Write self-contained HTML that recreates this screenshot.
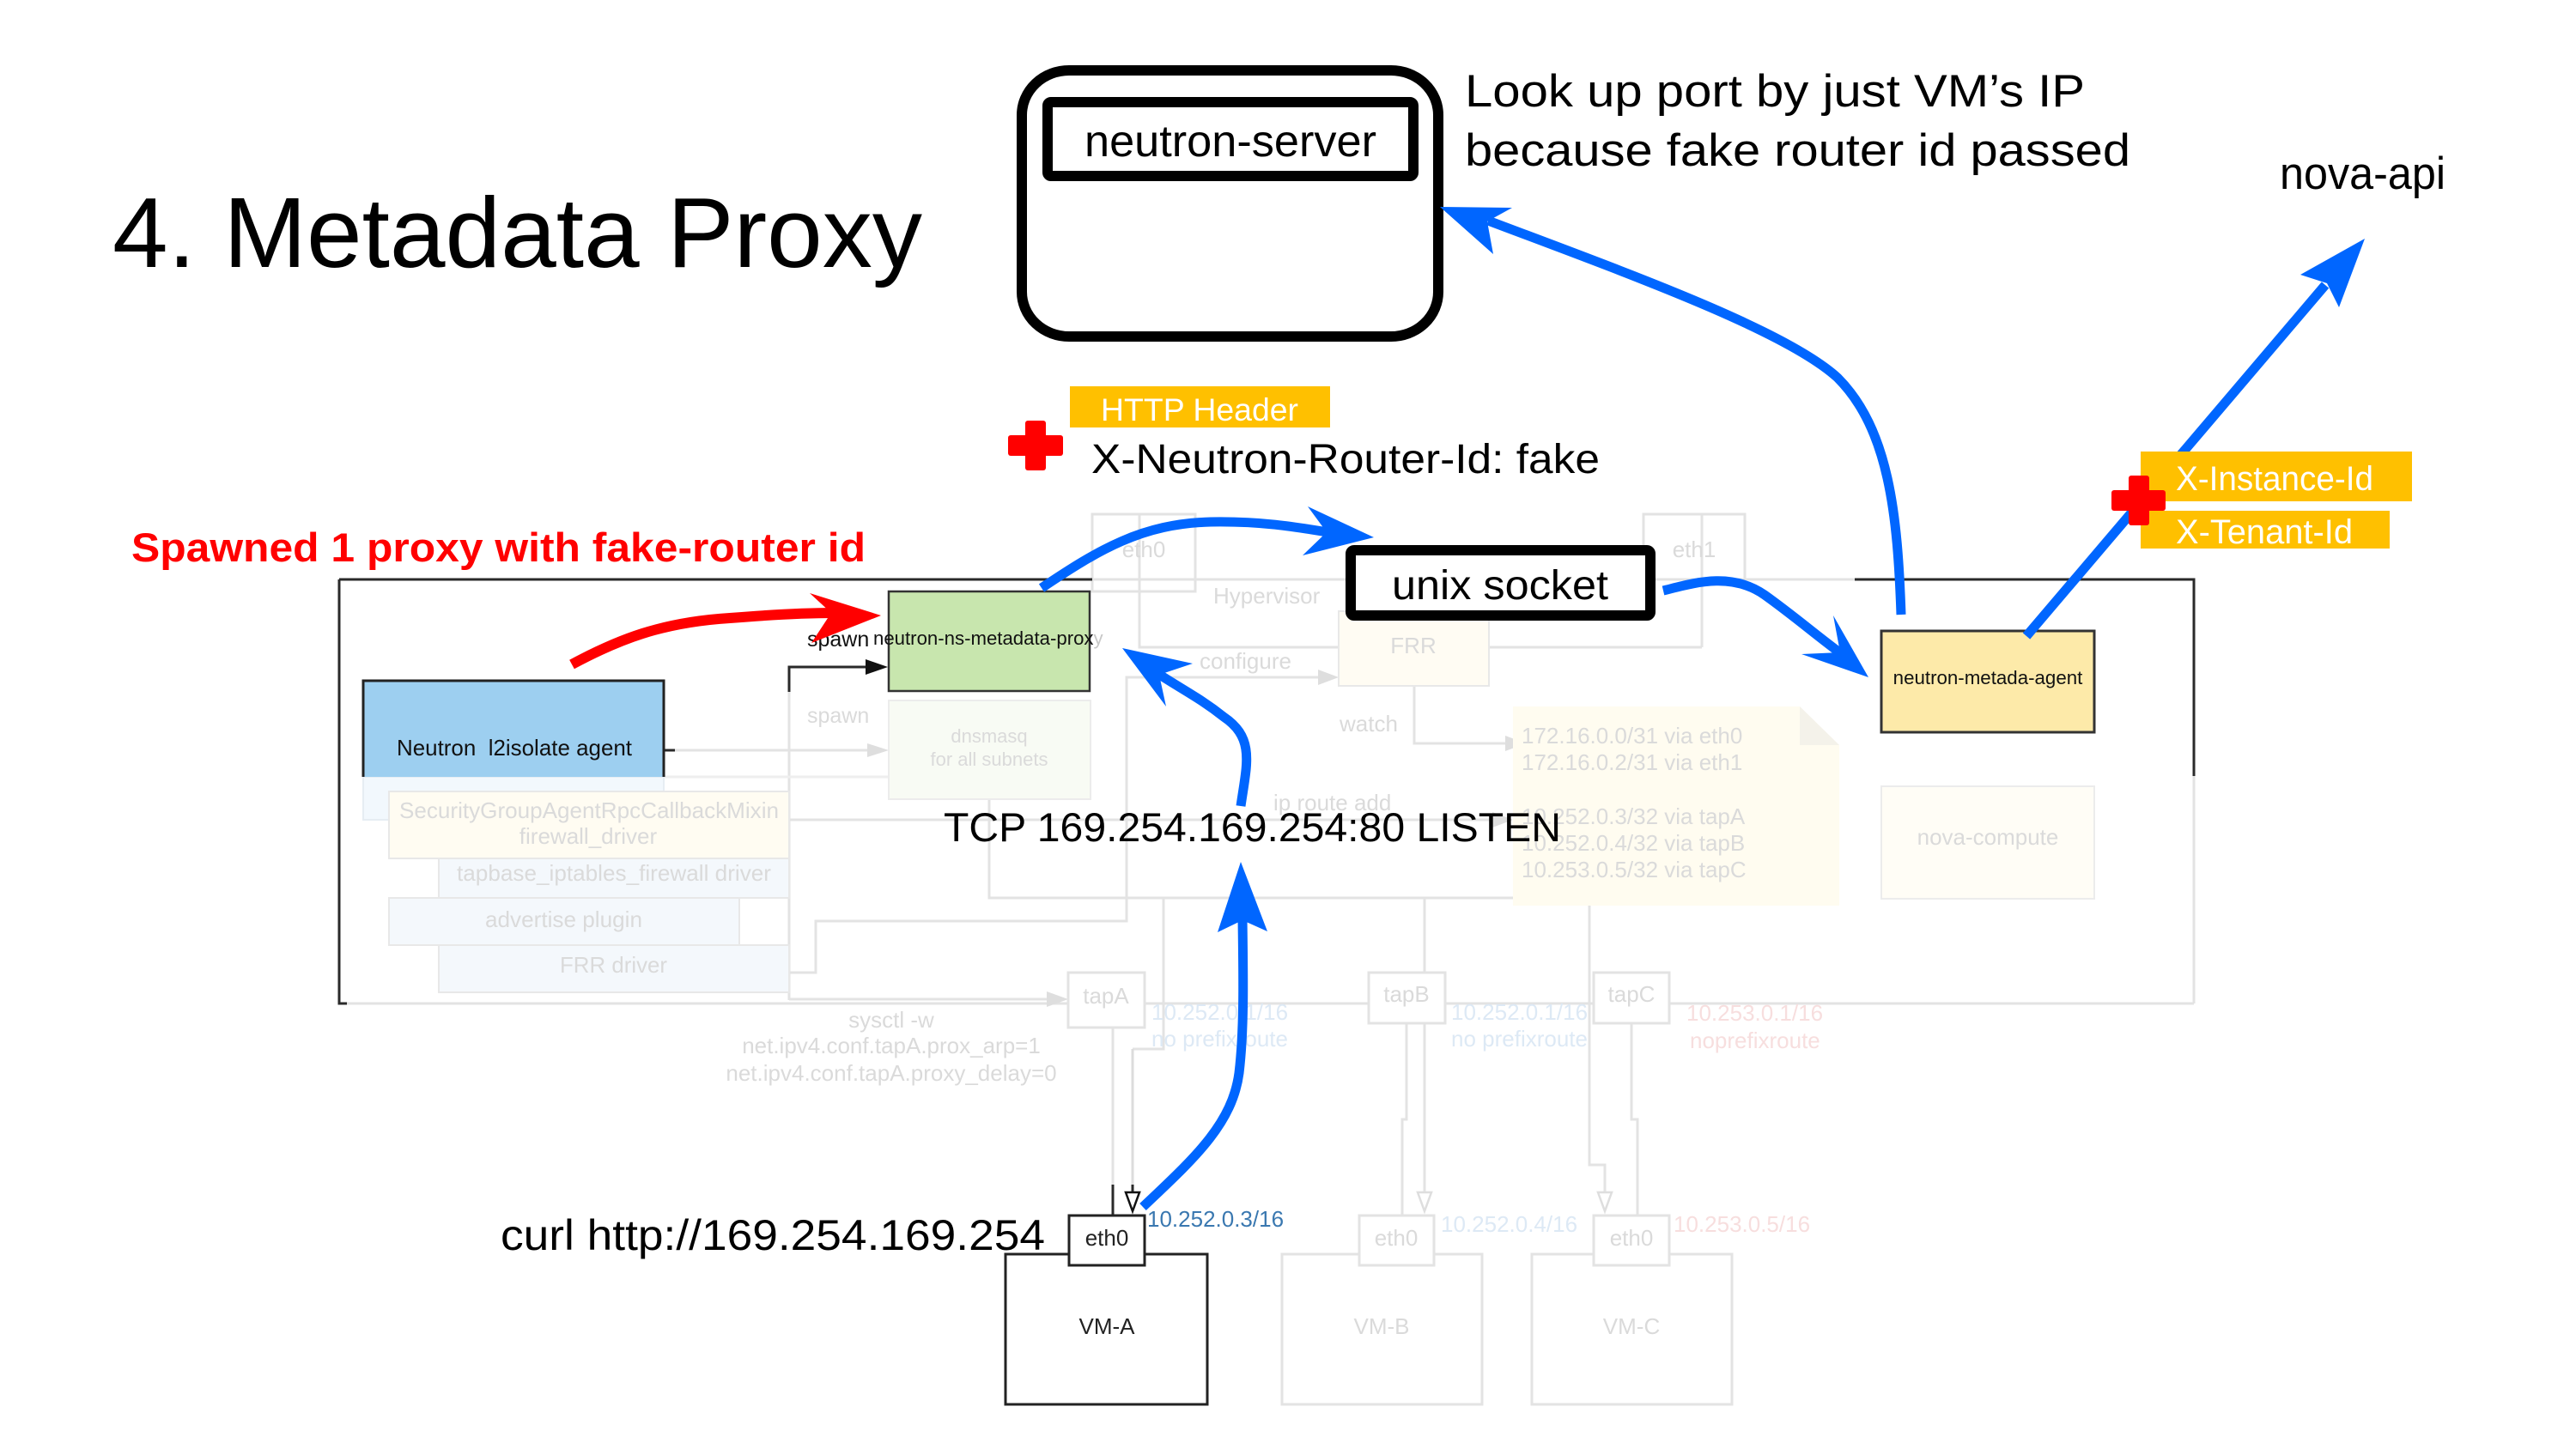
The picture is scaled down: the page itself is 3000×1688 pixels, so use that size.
<!DOCTYPE html>
<html><head><meta charset="utf-8"><style>html,body{margin:0;padding:0;background:#fff}svg{display:block}</style></head>
<body>
<svg xmlns="http://www.w3.org/2000/svg" width="3000" height="1688" viewBox="0 0 3000 1688" font-family="'Liberation Sans', Arial, sans-serif">
<rect width="3000" height="1688" fill="#fff"/>

<!-- ===== faint background diagram ===== -->
<g fill="none" stroke="#e3e3e3" stroke-width="3">
  <!-- outer frame gray parts -->
  <path d="M395,1169 H1244 M1333,1169 H1594 M1683,1169 H1856 M1944,1169 H2555"/>
  <path d="M1272,675 H2160"/>
  <path d="M2555,904 V1169"/>
  <!-- eth0 / hypervisor / eth1 -->
  <rect x="1272" y="599" width="120" height="90"/>
  <path d="M1327,599 V754 H1559"/>
  <path d="M1734,754 H1982 M1982,599 V754"/>
  <rect x="1914" y="599" width="118" height="76"/>
  <!-- agent connectors -->
  <path d="M785,874 H1012"/>
  <path d="M919,806 V1165"/>
  <path d="M919,955 H1740"/>
  <path d="M773,905 H1035" stroke="#eeeeee"/>
  <path d="M919,1133 H950 V1073 H1312 V789 H1538"/>
  <path d="M1647,799 V866 H1756"/>
  <path d="M1152,931 V1046 H1762"/>
  <path d="M919,1164 H1222"/>
  <!-- tap lines -->
  <path d="M1355,1046 V1222 H1319"/>
  <path d="M1296,1197 V1380"/>
  <path d="M1659,1046 V1133"/>
  <path d="M1638,1192 V1304 H1633 V1416"/>
  <path d="M1659,1192 V1390"/>
  <path d="M1851,1055 V1357 H1869 V1390"/>
  <path d="M1900,1192 V1304 H1907 V1416"/>
  <path d="M1319,1222 V1390" stroke="#dcdcdc"/>
</g>
<!-- gray arrowheads -->
<g fill="#dedede">
  <polygon points="1035,874 1010,866 1010,882"/>
  <polygon points="1762,955 1738,946 1738,964"/>
  <polygon points="1559,789 1535,780 1535,798"/>
  <polygon points="1777,866 1753,857 1753,875"/>
  <polygon points="1244,1164 1219,1155 1219,1173"/>
</g>
<g fill="#fff" stroke="#dedede" stroke-width="2.5">
  <polygon points="1659,1411 1651,1389 1667,1389"/>
  <polygon points="1869,1411 1861,1389 1877,1389"/>
</g>

<!-- faint boxes -->
<rect x="423" y="905" width="350" height="50" fill="#f2f8fd" stroke="#e6edf3" stroke-width="2"/>
<rect x="453" y="922" width="466" height="78" fill="#fffcf2" stroke="#e8e8e8" stroke-width="2"/>
<rect x="511" y="1000" width="408" height="46" fill="#f4f8fc" stroke="#e8e8e8" stroke-width="2"/>
<rect x="453" y="1046" width="408" height="55" fill="#f4f8fc" stroke="#e8e8e8" stroke-width="2"/>
<rect x="511" y="1101" width="408" height="55" fill="#f4f8fc" stroke="#e8e8e8" stroke-width="2"/>
<rect x="1035" y="816" width="235" height="115" fill="#f8fbf4" stroke="#ececec" stroke-width="2"/>
<rect x="1559" y="712" width="175" height="87" fill="#fffcf3" stroke="#e8e8e8" stroke-width="2"/>
<polygon points="1762,823 2096,823 2142,868 2142,1055 1762,1055" fill="#fffcf0"/>
<polygon points="2096,823 2096,868 2142,868" fill="#f4f2ea"/>
<rect x="2191" y="916" width="248" height="131" fill="#fffdf6" stroke="#ececec" stroke-width="2"/>
<g fill="#fff" stroke="#e3e3e3" stroke-width="3">
  <rect x="1244" y="1133" width="89" height="64"/>
  <rect x="1594" y="1133" width="89" height="59"/>
  <rect x="1856" y="1133" width="88" height="59"/>
  <rect x="1493" y="1461" width="233" height="175"/>
  <rect x="1784" y="1461" width="233" height="175"/>
  <rect x="1583" y="1416" width="87" height="58"/>
  <rect x="1856" y="1416" width="88" height="58"/>
</g>

<!-- faint texts -->
<g fill="#dadada" font-size="26">
  <text x="465" y="953" textLength="442" lengthAdjust="spacingAndGlyphs">SecurityGroupAgentRpcCallbackMixin</text>
  <text x="685" y="983" text-anchor="middle">firewall_driver</text>
  <text x="532" y="1026" textLength="366" lengthAdjust="spacingAndGlyphs">tapbase_iptables_firewall driver</text>
  <text x="565" y="1080" textLength="183" lengthAdjust="spacingAndGlyphs">advertise plugin</text>
  <text x="652" y="1133" textLength="125" lengthAdjust="spacingAndGlyphs">FRR driver</text>
  <text x="940" y="842" font-size="25">spawn</text>
  <text x="1332" y="649" text-anchor="middle">eth0</text>
  <text x="1973" y="649" text-anchor="middle">eth1</text>
  <text x="1413" y="703">Hypervisor</text>
  <text x="1397" y="779">configure</text>
  <text x="1646" y="761" text-anchor="middle">FRR</text>
  <text x="1560" y="852">watch</text>
  <text x="1483" y="944">ip route add</text>
  <text x="1152" y="865" text-anchor="middle" font-size="22">dnsmasq</text>
  <text x="1152" y="892" text-anchor="middle" font-size="22">for all subnets</text>
  <text x="1772" y="866">172.16.0.0/31 via eth0</text>
  <text x="1772" y="897">172.16.0.2/31 via eth1</text>
  <text x="1772" y="960">10.252.0.3/32 via tapA</text>
  <text x="1772" y="991">10.252.0.4/32 via tapB</text>
  <text x="1772" y="1022">10.253.0.5/32 via tapC</text>
  <text x="2315" y="984" text-anchor="middle">nova-compute</text>
  <text x="1288" y="1169" text-anchor="middle">tapA</text>
  <text x="1638" y="1167" text-anchor="middle">tapB</text>
  <text x="1900" y="1167" text-anchor="middle">tapC</text>
  <text x="1038" y="1197" text-anchor="middle">sysctl -w</text>
  <text x="1038" y="1227" text-anchor="middle">net.ipv4.conf.tapA.prox_arp=1</text>
  <text x="1038" y="1259" text-anchor="middle">net.ipv4.conf.tapA.proxy_delay=0</text>
  <text x="1626" y="1451" text-anchor="middle">eth0</text>
  <text x="1900" y="1451" text-anchor="middle">eth0</text>
  <text x="1609" y="1554" text-anchor="middle">VM-B</text>
  <text x="1900" y="1554" text-anchor="middle">VM-C</text>
</g>
<g fill="#dde9f5" font-size="26">
  <text x="1341" y="1188">10.252.0.1/16</text>
  <text x="1341" y="1219">no prefixroute</text>
  <text x="1690" y="1188">10.252.0.1/16</text>
  <text x="1690" y="1219">no prefixroute</text>
  <text x="1678" y="1435">10.252.0.4/16</text>
</g>
<g fill="#f7dede" font-size="26">
  <text x="1964" y="1189">10.253.0.1/16</text>
  <text x="1968" y="1221">noprefixroute</text>
  <text x="1949" y="1435">10.253.0.5/16</text>
</g>

<!-- ===== dark diagram parts ===== -->
<g fill="none" stroke="#2a2a2a" stroke-width="3">
  <path d="M395,675 H1272"/>
  <path d="M395,675 V1169 H404"/>
  <path d="M2160,675 H2555 V904"/>
  <path d="M773,874 H786"/>
  <path d="M919,806 V777 H1010"/>
  <path d="M1296,1380 V1416"/>
  <path d="M1319,1380 V1392"/>
</g>
<polygon points="1034,777 1008,768 1008,786" fill="#111"/>
<polygon points="1319,1411 1311,1389 1327,1389" fill="#fff" stroke="#111" stroke-width="2.5"/>

<!-- Neutron agent -->
<rect x="423" y="793" width="350" height="112" fill="#9dcff0"/>
<path d="M423,905 V793 H773 V905" fill="none" stroke="#222" stroke-width="3"/>
<text x="462" y="880" font-size="26" fill="#111" textLength="274" lengthAdjust="spacingAndGlyphs" xml:space="preserve">Neutron  l2isolate agent</text>

<!-- proxy -->
<rect x="1035" y="689" width="234" height="116" fill="#c8e6ae" stroke="#333" stroke-width="2.5"/>
<text x="1017" y="751" font-size="22.2" fill="#111">neutron-ns-metadata-prox<tspan fill="#c8c8c8">y</tspan></text>
<text x="940" y="753" font-size="25" fill="#111">spawn</text>

<!-- metadata agent -->
<rect x="2191" y="735" width="248" height="118" fill="#fdeaa9" stroke="#333" stroke-width="3"/>
<text x="2315" y="797" font-size="22.3" fill="#111" text-anchor="middle">neutron-metada-agent</text>

<!-- VM-A -->
<rect x="1171" y="1461" width="235" height="175" fill="#fff" stroke="#222" stroke-width="3"/>
<rect x="1245" y="1416" width="88" height="58" fill="#fff" stroke="#222" stroke-width="3"/>
<text x="1289" y="1451" font-size="26" fill="#222" text-anchor="middle">eth0</text>
<text x="1289" y="1554" font-size="26" fill="#222" text-anchor="middle">VM-A</text>
<text x="1336" y="1429" font-size="26" fill="#3a78b0">10.252.0.3/16</text>

<!-- ===== neutron-server ===== -->
<rect x="1190" y="82" width="485" height="310" rx="55" ry="52" fill="none" stroke="#000" stroke-width="12"/>
<rect x="1220" y="119" width="426" height="86" rx="4" fill="#fff" stroke="#000" stroke-width="12"/>
<text x="1263" y="182" font-size="52" fill="#000" textLength="340" lengthAdjust="spacingAndGlyphs">neutron-server</text>

<!-- unix socket -->
<rect x="1573" y="641" width="349" height="76" rx="4" fill="#fff" stroke="#000" stroke-width="12"/>
<text x="1621" y="698" font-size="48" fill="#000" textLength="252" lengthAdjust="spacingAndGlyphs">unix socket</text>

<!-- title & labels -->
<text x="131" y="311" font-size="116" fill="#000" textLength="943" lengthAdjust="spacingAndGlyphs">4. Metadata Proxy</text>
<text x="1706" y="124" font-size="53" fill="#000" textLength="722" lengthAdjust="spacingAndGlyphs">Look up port by just VM’s IP</text>
<text x="1706" y="193" font-size="53" fill="#000" textLength="775" lengthAdjust="spacingAndGlyphs">because fake router id passed</text>
<text x="2655" y="220" font-size="53" fill="#000" textLength="193" lengthAdjust="spacingAndGlyphs">nova-api</text>

<rect x="1246" y="450" width="303" height="48" fill="#ffc000"/>
<text x="1282" y="490" font-size="37" fill="#fff" textLength="230" lengthAdjust="spacingAndGlyphs">HTTP Header</text>
<text x="1271" y="551" font-size="48" fill="#000" textLength="592" lengthAdjust="spacingAndGlyphs">X-Neutron-Router-Id: fake</text>
<rect x="1174" y="507" width="64" height="24" rx="3" fill="#f00"/>
<rect x="1194" y="490" width="24" height="58" rx="3" fill="#f00"/>

<text x="153" y="654" font-size="47" font-weight="bold" fill="#f00" textLength="855" lengthAdjust="spacingAndGlyphs">Spawned 1 proxy with fake-router id</text>

<text x="1099" y="980" font-size="47" fill="#000" textLength="719" lengthAdjust="spacingAndGlyphs">TCP 169.254.169.254:80 LISTEN</text>
<text x="583" y="1456" font-size="50" fill="#000" textLength="634" lengthAdjust="spacingAndGlyphs">curl http://169.254.169.254</text>

<!-- ===== arrows ===== -->
<g fill="none" stroke="#0066ff" stroke-width="11" stroke-linecap="butt">
  <path d="M2214,716 C2210,600 2200,500 2140,440 C2080,385 1900,320 1733,257"/>
  <path d="M1213,685 C1280,640 1330,610 1410,608 C1470,607 1510,614 1546,620"/>
  <path d="M1445,939 C1452,890 1462,860 1425,835 C1400,815 1380,805 1349,785"/>
  <path d="M1331,1406 C1390,1350 1435,1310 1443,1250 C1449,1200 1448,1140 1447,1070"/>
  <path d="M1937,688 C1970,680 2015,665 2055,693 C2090,718 2115,740 2145,762"/>
  <path d="M2360,741 L2708,332"/>
</g>
<g fill="#0066ff">
  <polygon points="1677,241 1761,242 1732,258 1739,296"/>
  <polygon points="1600,626 1523,590 1545,620 1517,647"/>
  <polygon points="1307,755 1389,773 1350,786 1358,823"/>
  <polygon points="1445,1004 1418,1086 1447,1072 1476,1085"/>
  <polygon points="2176,789 2135,717 2143,760 2098,762"/>
  <polygon points="2754,278 2679,320 2710,330 2724,358"/>
</g>
<path d="M666,774 C720,745 770,725 850,720 C900,716 940,714 970,714" fill="none" stroke="#f00" stroke-width="12"/>
<polygon points="1026,717 943,691 968,714 945,749" fill="#f00"/>

<!-- X-Instance / X-Tenant -->
<rect x="2493" y="526" width="316" height="58" fill="#ffc000"/>
<rect x="2493" y="595" width="290" height="44" fill="#ffc000"/>
<text x="2534" y="571" font-size="40" fill="#fff" textLength="230" lengthAdjust="spacingAndGlyphs">X-Instance-Id</text>
<text x="2534" y="633" font-size="40" fill="#fff" textLength="206" lengthAdjust="spacingAndGlyphs">X-Tenant-Id</text>
<rect x="2459" y="571" width="63" height="24" rx="3" fill="#f00"/>
<rect x="2479" y="554" width="24" height="58" rx="3" fill="#f00"/>
</svg>
</body></html>
